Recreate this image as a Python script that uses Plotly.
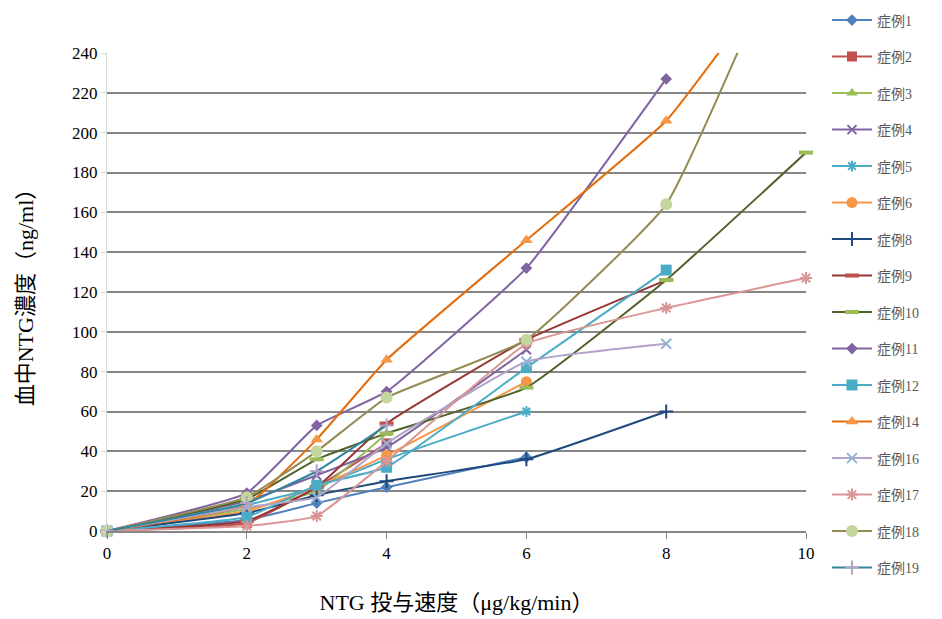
import plotly.graph_objects as go

doses = [0, 2, 3, 4, 6, 8, 10]

case_names = ["症例1", "症例2", "症例3", "症例4", "症例5", "症例6", "症例8", "症例9",
              "症例10", "症例11", "症例12", "症例14", "症例16", "症例17", "症例18", "症例19"]

case1 = [0, 5.5, 14, 22, 37]
case2 = [0, 4, 22, 44]
case3 = [0, 11, 20, 49]
case4 = [0, 15, 28, 42, 91]
case5 = [0, 13, 22, 36, 60]
case6 = [0, 10, 22, 38, 75]
case8 = [0, 9, 18, 25, 36, 60]
case9 = [0, 5, 22, 54, 96, 126]
case10 = [0, 16, 36, 49, 72, 126, 190]
case11 = [0, 19, 53, 70, 132, 227]
case12 = [0, 7, 23, 32, 82, 131]
case14 = [0, 13, 46, 86, 146, 206, 300]
case16 = [0, 12, 17, 44, 85, 94]
case17 = [0, 2.5, 7.5, 35, 94, 112, 127]
case18 = [0, 17, 40, 67, 96, 164, 320]
case19 = [0, 14, 30, 53]

series = [case1, case2, case3, case4, case5, case6, case8, case9,
          case10, case11, case12, case14, case16, case17, case18, case19]

# (line colour, marker colour, symbol, size, marker line width)
styles = [
    ("#4F81BD", "#4F81BD", "diamond", 9, 0),
    ("#C0504D", "#C0504D", "square", 10, 0),
    ("#9BBB59", "#9BBB59", "triangle-up", 10, 0),
    ("#8064A2", "#8064A2", "x-thin-open", 9, 2),
    ("#4BACC6", "#4BACC6", "asterisk-open", 9, 2),
    ("#F79646", "#F79646", "circle", 11, 0),
    ("#1F497D", "#1F497D", "cross-thin-open", 10, 2),
    ("#953735", "#C0504D", "line-ew-open", 10, 4),
    ("#4F6228", "#9BBB59", "line-ew-open", 10, 4),
    ("#8064A2", "#8064A2", "diamond", 9, 0),
    ("#4BACC6", "#4BACC6", "square", 11, 0),
    ("#E46C0A", "#F79646", "triangle-up", 11, 0),
    ("#B3A2C7", "#95B3D7", "x-thin-open", 10, 2),
    ("#D99694", "#D99694", "asterisk-open", 10, 2),
    ("#948A54", "#C3D69B", "circle", 12, 0),
    ("#31859C", "#B3A2C7", "cross-thin-open", 10, 2),
]

SERIF = "Liberation Serif, 'Noto Sans CJK JP', serif"

fig = go.Figure()
for i, (name, vals) in enumerate(zip(case_names, series)):
    lc, mc, sym, sz, mlw = styles[i]
    if mlw > 0:
        marker = dict(symbol=sym, size=sz, color=mc, line=dict(color=mc, width=mlw))
    else:
        marker = dict(symbol=sym, size=sz, color=mc, line=dict(width=0))
    fig.add_trace(go.Scatter(
        x=doses[:len(vals)], y=vals, name=name, mode="lines+markers",
        line=dict(color=lc, width=2, shape="spline", smoothing=0.35),
        marker=marker, cliponaxis=False, legendgroup=name,
    ))

fig.update_layout(
    width=942, height=619,
    margin=dict(l=107, r=136, t=53, b=88, autoexpand=False),
    paper_bgcolor="white", plot_bgcolor="white",
    font=dict(family=SERIF, color="black", size=16),
    showlegend=True,
    legend=dict(
        x=1.03, xanchor="left", y=1.1015, yanchor="top",
        font=dict(family=SERIF, size=14, color="#595959"),
        traceorder="grouped", tracegroupgap=15.3,
        itemwidth=40, bgcolor="rgba(0,0,0,0)",
        maxheight=619,
    ),
    xaxis=dict(
        range=[0, 10], tickvals=[0, 2, 4, 6, 8, 10],
        showgrid=False, zeroline=False,
        showline=True, linecolor="#868686", linewidth=2,
        ticks="outside", ticklen=6, tickcolor="#868686", tickwidth=1,
        tickfont=dict(family=SERIF, size=17, color="black"),
        title=dict(text="NTG 投与速度（μg/kg/min）", font=dict(family=SERIF, size=22, color="black"), standoff=32),
    ),
    yaxis=dict(
        range=[0, 240], tickvals=list(range(0, 241, 20)),
        showgrid=True, gridcolor="#868686", gridwidth=2,
        zeroline=False,
        showline=True, linecolor="#D9D9D9", linewidth=1,
        ticks="outside", ticklen=5, tickcolor="#D9D9D9",
        tickfont=dict(family=SERIF, size=17, color="black"),
        title=dict(text="血中NTG濃度（ng/ml）", font=dict(family=SERIF, size=22, color="black"), standoff=32),
    ),
)

fig.write_html("out.html")
